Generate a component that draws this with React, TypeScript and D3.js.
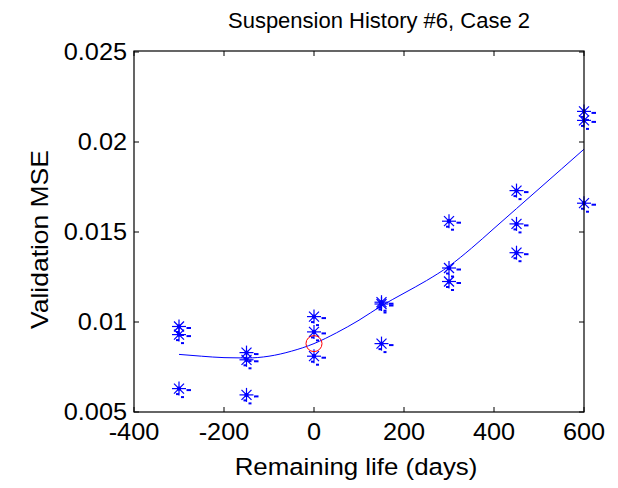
import React from "react";
import * as d3 from "d3";

const title = "Suspension History #6, Case 2";
const xLabel = "Remaining life (days)";
const yLabel = "Validation MSE";
const xTicks = [-400, -200, 0, 200, 400, 600];
const yTicks = [0.005, 0.01, 0.015, 0.02, 0.025];

// scattered validation points
const pointX = [
  -300, -300, -300,
  -150, -150, -150,
  0, 0, 0,
  150, 150, 150,
  300, 300, 300,
  450, 450, 450,
  600, 600, 600,
];
const pointY = [
  0.00975, 0.0093, 0.0063,
  0.0083, 0.0079, 0.00595,
  0.0103, 0.00945, 0.0081,
  0.0111, 0.0110, 0.0088,
  0.0156, 0.0130, 0.01225,
  0.0173, 0.01545, 0.01385,
  0.0217, 0.0212, 0.0166,
];

// fitted trend curve
const curveX = [-300, -250, -200, -150, -100, -50, 0, 50, 100, 150, 200, 250, 300, 350, 400, 450, 500, 550, 600];
const curveY = [0.0082, 0.0081, 0.00802, 0.008, 0.0081, 0.00838, 0.0088, 0.0094, 0.0101, 0.0109, 0.0116, 0.0123, 0.0131, 0.0141, 0.0152, 0.0163, 0.0174, 0.0185, 0.0196];

const highlightX = [0];
const highlightY = [0.0088];

const W = 618;
const H = 488;
const left = 134;
const right = 584;
const top = 51;
const bottom = 412;

export default function App() {
  const x = d3.scaleLinear().domain([-400, 600]).range([left, right]);
  const y = d3.scaleLinear().domain([0.005, 0.025]).range([bottom, 52]);
  const line = d3
    .line<number>()
    .x((_, i) => x(curveX[i]))
    .y((d) => y(d))
    .curve(d3.curveMonotoneX);
  const font = "Arial, 'Liberation Sans', sans-serif";
  const blue = "#0000ff";
  const tl = 5;
  const sx = 1.1;

  return (
    <svg
      width={W}
      height={H}
      style={{ position: "absolute", left: 0, top: 0, background: "#fff" }}
      fontFamily={font}
    >
      <rect x={0} y={0} width={W} height={H} fill="#fff" />
      {/* curve */}
      <path d={line(curveY) || ""} fill="none" stroke={blue} strokeWidth={1} />
      {/* markers */}
      {pointY.map((v, i) => {
        const cx = x(pointX[i]);
        const cy = y(v);
        const r = 7;
        const d = 5;
        return (
          <g key={i} stroke={blue} strokeWidth={1.2} fill="none">
            <line x1={cx - r} y1={cy} x2={cx + r} y2={cy} />
            <line x1={cx} y1={cy - r} x2={cx} y2={cy + r} />
            <line x1={cx - d} y1={cy - d} x2={cx + d} y2={cy + d} />
            <line x1={cx - d} y1={cy + d} x2={cx + d} y2={cy - d} />
            <circle cx={cx} cy={cy} r={1.6} fill={blue} />
            <line x1={cx + 7.5} y1={cy + 1.5} x2={cx + 12} y2={cy + 1.5} strokeWidth={2} />
            <line x1={cx - 3} y1={cy + 5.5} x2={cx} y2={cy + 5.5} strokeWidth={2} />
            <line x1={cx + 2} y1={cy + 8.5} x2={cx + 5} y2={cy + 8.5} strokeWidth={2} />
          </g>
        );
      })}
      {/* highlight circle */}
      {highlightX.map((v, i) => (
        <circle key={i} cx={x(v)} cy={y(highlightY[i])} r={8} fill="none" stroke="#ff0000" strokeWidth={1} />
      ))}
      {/* axes box */}
      <rect x={left} y={top} width={right - left} height={bottom - top} fill="none" stroke="#000" strokeWidth={1.2} />
      {xTicks.map((t) => (
        <g key={t}>
          <line x1={x(t)} x2={x(t)} y1={bottom} y2={bottom - tl} stroke="#000" />
          <line x1={x(t)} x2={x(t)} y1={top} y2={top + tl} stroke="#000" />
          <text
            transform={`translate(${x(t)}, 440) scale(${sx}, 1)`}
            fontSize={23}
            textAnchor="middle"
            fill="#000"
          >
            {t}
          </text>
        </g>
      ))}
      {yTicks.map((t) => (
        <g key={t}>
          <line x1={left} x2={left + tl} y1={y(t)} y2={y(t)} stroke="#000" />
          <line x1={right} x2={right - tl} y1={y(t)} y2={y(t)} stroke="#000" />
          <text
            transform={`translate(127, ${y(t) + 8}) scale(${sx}, 1)`}
            fontSize={23}
            textAnchor="end"
            fill="#000"
          >
            {t}
          </text>
        </g>
      ))}
      <text
        transform={`translate(${(left + right) / 2 - 3}, 475) scale(${sx}, 1)`}
        fontSize={23.5}
        textAnchor="middle"
        fill="#000"
      >
        {xLabel}
      </text>
      <text
        transform={`translate(48, ${(top + bottom) / 2 + 8}) rotate(-90) scale(1.15, 1.05)`}
        fontSize={23}
        textAnchor="middle"
        fill="#000"
      >
        {yLabel}
      </text>
      <text x={(left + right) / 2 + 20} y={28} fontSize={22} textAnchor="middle" fill="#000">
        {title}
      </text>
    </svg>
  );
}
